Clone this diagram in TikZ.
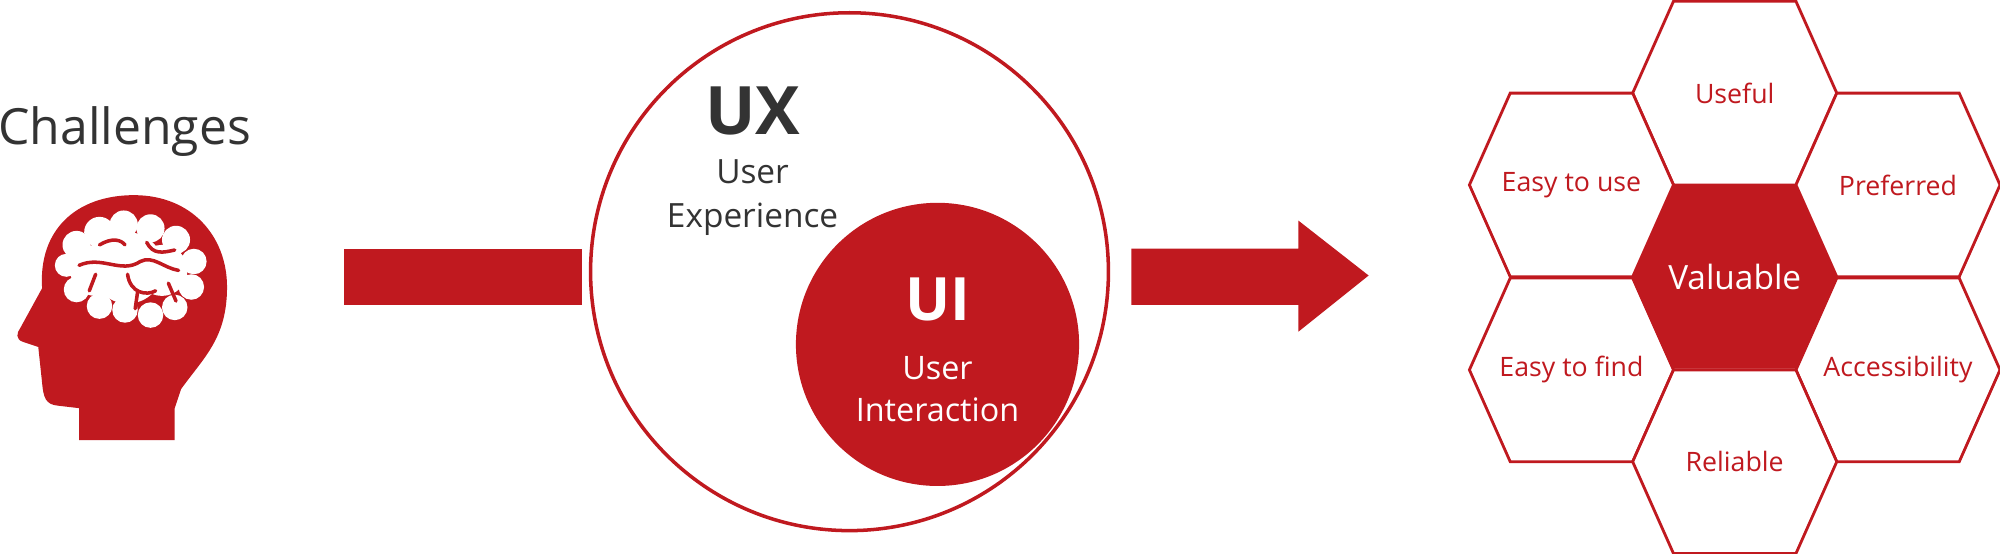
\documentclass[tikz,border=0pt]{standalone}
\usepackage{fontspec}
\setmainfont{Open Sans}
\usetikzlibrary{positioning}
\definecolor{uxred}{HTML}{C0191F}
\definecolor{uxgray}{HTML}{333333}
\tikzset{
  hexbox/.style={draw=uxred, line width=0.8pt, fill=white},
  hexlabel/.style={text=uxred, font=\fontsize{7.6}{9}\selectfont},
  bigring/.style={draw=uxred, line width=1pt, fill=white},
  brainline/.style={uxred, line width=1pt, line cap=round},
}
\newcommand{\hexat}[3]{% centre x, centre y, style
  \path[#3] (#1-80,#2) -- (#1-48,#2-72) -- (#1+48,#2-72) -- (#1+80,#2)
    -- (#1+48,#2+72) -- (#1-48,#2+72) -- cycle;}

\begin{document}
\begin{tikzpicture}[x=0.012755cm, y=-0.012755cm]
	\useasboundingbox (0,0) rectangle (1568,434);

	% challenges
	\node[text=uxgray, font=\fontsize{14.2}{16}\selectfont, anchor=base west, inner sep=0] (chal) at (-2,113) {Challenges};
	\fill[uxred] (62,345) -- (62,320) -- (45,318) .. controls (36,317) and (34,312) .. (33,300)
		-- (30,272) -- (18,268) .. controls (12,266) and (13,261) .. (16,257)
		-- (33,226) .. controls (30,180) and (60,153) .. (105,153)
		.. controls (150,153) and (178,185) .. (178,225)
		.. controls (178,265) and (160,280) .. (142,305) -- (137,320) -- (137,345) -- cycle;
	\begin{scope}[fill=white]
		\foreach \bx/\by/\br in {60/192/11, 78/182/12, 97/176/11, 118/179/11, 138/188/11, 152/205/10,
			150/225/10, 137/241/10, 118/247/10, 98/243/10, 78/240/10, 60/227/10, 52/208/9, 100/210/28, 127/212/20, 75/212/20}
			\fill (\bx,\by) circle (\br);
	\end{scope}
	\draw[brainline] (62,208) .. controls (80,200) and (95,215) .. (110,205)
		.. controls (120,200) and (128,210) .. (140,212);
	\draw[brainline] (100,215) .. controls (102,230) and (115,232) .. (122,228);
	\draw[brainline] (115,190) .. controls (120,200) and (128,198) .. (137,196);
	\draw[brainline] (78,192) .. controls (88,186) and (95,188) .. (98,192);
	\draw[brainline] (75,215) -- (70,228);
	\draw[brainline] (132,222) -- (138,236);
	\draw[brainline] (108,228) -- (106,242);

	% arrows
	\fill[uxred] (270,195) rectangle (456,239);
	\fill[uxred] (887,195) -- (1018,195) -- (1018,173) -- (1073,216) -- (1018,260) -- (1018,239) -- (887,239) -- cycle;

	% circles
	\draw[bigring] (666,213) circle (203);
	\fill[uxred] (735,270) circle (111);
	\node[text=uxgray, font=\fontsize{19}{22}\selectfont\bfseries] (ux) at (590,87) {UX};
	\node[text=uxgray, font=\fontsize{9.5}{12.5}\selectfont, align=center] (uxsub) at (590,155) {User\\Experience};
	\node[text=white, font=\fontsize{17}{20}\selectfont\bfseries] (ui) at (735,235) {UI};
	\node[text=white, font=\fontsize{9.2}{12}\selectfont, align=center] (uisub) at (735,305) {User\\Interaction};

	% hexagons
	\foreach \hx/\hy/\hname/\htext in {1360/73/useful/Useful, 1232/145/easyuse/Easy to use, 1488/145/preferred/Preferred,
		1232/290/easyfind/Easy to find, 1488/290/access/Accessibility, 1360/362/reliable/Reliable} {
		\hexat{\hx}{\hy}{hexbox}
		\node[hexlabel] (\hname) at (\hx,\hy) {\htext};
	}
	\hexat{1360}{217}{fill=uxred}
	\node[text=white, font=\fontsize{9.5}{11}\selectfont] (valuable) at (1360,217) {Valuable};

\end{tikzpicture}
\end{document}
